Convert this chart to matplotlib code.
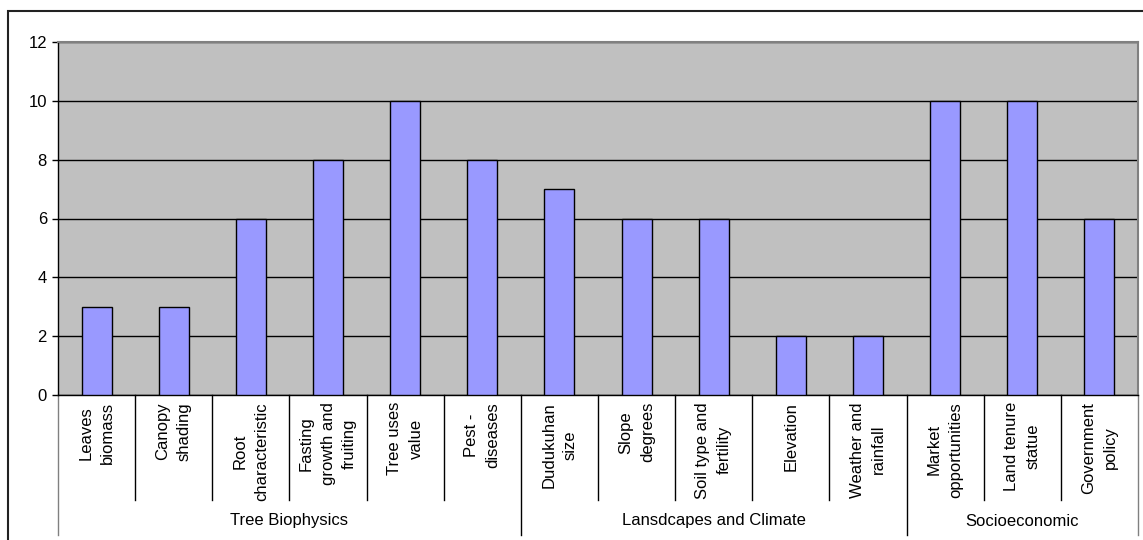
import matplotlib
matplotlib.use("Agg")
import matplotlib.pyplot as plt
import matplotlib.transforms as mtransforms
from matplotlib.patches import Rectangle

categories = ["Leaves\nbiomass", "Canopy\nshading", "Root\ncharacteristic",
              "Fasting\ngrowth and\nfruiting", "Tree uses\nvalue", "Pest -\ndiseases",
              "Dudukuhan\nsize", "Slope\ndegrees", "Soil type and\nfertility",
              "Elevation", "Weather and\nrainfall", "Market\nopportunities",
              "Land tenure\nstatue", "Government\npolicy"]
values = [3, 3, 6, 8, 10, 8, 7, 6, 6, 2, 2, 10, 10, 6]
groups = ["Tree Biophysics", "Lansdcapes and Climate", "Socioeconomic"]
group_sizes = [6, 5, 3]
yticks = [0, 2, 4, 6, 8, 10, 12]

plt.rcParams['font.family'] = ['Liberation Sans', 'DejaVu Sans']
W, H = 1143, 540
FS = 12
fig = plt.figure(figsize=(W / 100, H / 100), dpi=100)

# outer chart frame
fig.patches.append(Rectangle((8 / W, 0 - 0.01), 1.0, 1 - 11 / H + 0.01,
                             transform=fig.transFigure, fill=False,
                             edgecolor='#222222', lw=1.5, zorder=0))

left, right, top, bottom = 58, 1138, 42, 395
ax = fig.add_axes([left / W, 1 - bottom / H, (right - left) / W, (bottom - top) / H])
ax.set_facecolor('#C0C0C0')

x = list(range(len(values)))
ax.bar(x, values, width=0.39, color='#9999FF', edgecolor='black', lw=1, zorder=3)
ax.set_xlim(-0.5, len(values) - 0.5)
ax.set_ylim(0, 12)
ax.set_yticks(yticks)
ax.set_yticklabels([str(t) for t in yticks], fontsize=FS)
ax.tick_params(axis='y', length=4, width=1, color='black', pad=4)
ax.set_xticks([])
ax.yaxis.grid(True, color='black', lw=1)
ax.set_axisbelow(True)
for s in ['top', 'right']:
    ax.spines[s].set_color('#808080')
    ax.spines[s].set_linewidth(1.5)
for s in ['left', 'bottom']:
    ax.spines[s].set_color('black')
    ax.spines[s].set_linewidth(1)

trans = mtransforms.blended_transform_factory(ax.transData, fig.transFigure)
y_axis = 1 - bottom / H
y_sep = 1 - 500 / H
y_grp = 1 - 535 / H

# category labels and separators
for i, lab in enumerate(categories):
    ax.text(i, 1 - 402 / H, lab, transform=trans, rotation=90, ha='center',
            va='top', multialignment='center', fontsize=FS, linespacing=1.55)

bounds = [0]
for g in group_sizes:
    bounds.append(bounds[-1] + g)
for i in range(len(values) + 1):
    xb = i - 0.5
    if i in bounds:
        col = '#808080' if i in (0, len(values)) else 'black'
        ax.plot([xb, xb], [y_axis, y_grp], transform=trans, color=col, lw=1, clip_on=False)
    else:
        ax.plot([xb, xb], [y_axis, y_sep], transform=trans, color='black', lw=1, clip_on=False)

for gi, name in enumerate(groups):
    xc = (bounds[gi] + bounds[gi + 1] - 1) / 2
    ax.text(xc, 1 - 521 / H, name, transform=trans, ha='center', va='center', fontsize=FS)

fig.savefig("out.png", dpi=100)
